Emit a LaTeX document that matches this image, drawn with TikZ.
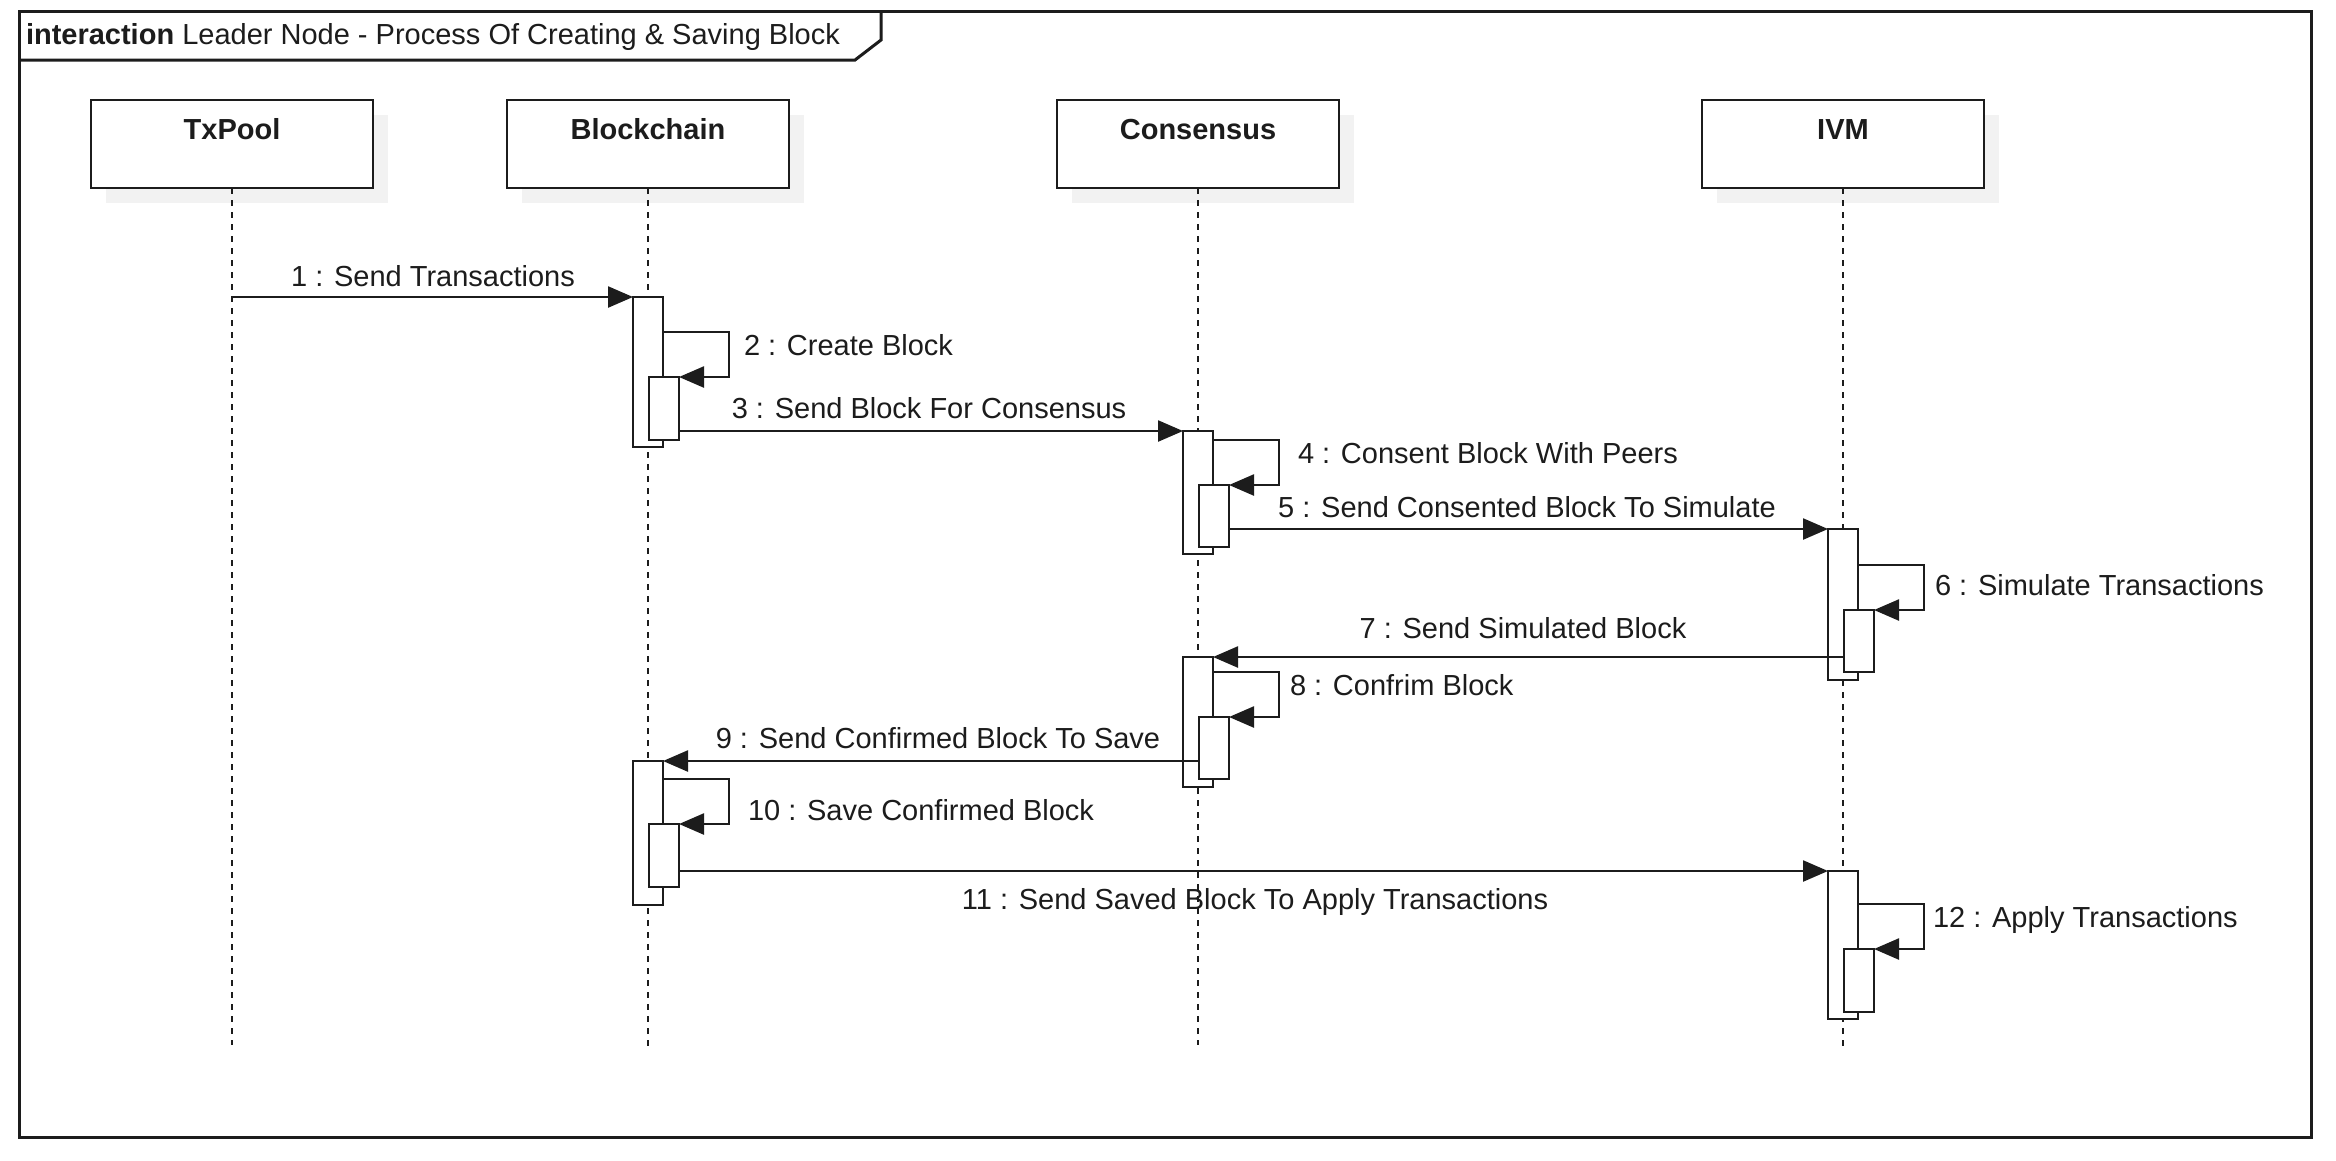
\documentclass[tikz,border=0pt]{standalone}
\usepackage{fontspec}
\setmainfont{Liberation Sans}
\usetikzlibrary{arrows.meta,calc,shadows}
\definecolor{ink}{RGB}{28,28,28}
\definecolor{shade}{RGB}{242,242,242}
\begin{document}
\begin{tikzpicture}[x=1pt,y=-1pt,
  every node/.style={inner sep=0pt, outer sep=0pt},
  txt/.style={font=\fontsize{29}{34}\selectfont, text=ink},
  head/.style={font=\fontsize{29}{34}\selectfont\bfseries, text=ink},
  lifebox/.style={draw=ink, line width=2.4pt, fill=white, minimum width=282pt, minimum height=88pt,
    drop shadow={shadow xshift=15pt, shadow yshift=-15pt, fill=shade, opacity=1, draw=none}},
  lifeline/.style={draw=ink, line width=2.2pt, dash pattern=on 6pt off 6pt},
  act/.style={draw=ink, line width=2.2pt, fill=white, minimum width=30pt, anchor=north},
  msg/.style={draw=ink, line width=2.4pt, -{Triangle[length=25pt,width=21pt]}},
  frameline/.style={draw=ink, line width=3pt},
]
\useasboundingbox (0,0) rectangle (2336,1160);
\fill[white] (0,0) rectangle (2336,1160);

% frame
\node[draw=ink, line width=3pt, minimum width=2292pt, minimum height=1126pt, anchor=north west] (frame) at (19,11) {};
\coordinate (tabA) at (19,60);
\coordinate (tabB) at (855,60);
\coordinate (tabC) at (881,40);
\coordinate (tabD) at (881,11);
\draw[frameline] (tabA) -- (tabB) -- (tabC) -- (tabD);
\node[txt, anchor=base west] (title) at (26,44) {\textbf{interaction} Leader Node - Process Of Creating \& Saving Block};

% lifeline heads
\node[lifebox] (tx) at (232,144) {};
\node[lifebox] (bc) at (648,144) {};
\node[lifebox] (cs) at (1198,144) {};
\node[lifebox] (ivm) at (1843,144) {};
\node[head, anchor=base] (txl) at (232,139) {TxPool};
\node[head, anchor=base] (bcl) at (648,139) {Blockchain};
\node[head, anchor=base] (csl) at (1198,139) {Consensus};
\node[head, anchor=base] (ivml) at (1843,139) {IVM};

% lifelines
\coordinate (txend) at (232,1045);
\coordinate (bcend) at (648,1048);
\coordinate (csend) at (1198,1045);
\coordinate (ivmend) at (1843,1048);
\draw[lifeline] (tx.south) -- (txend);
\draw[lifeline] (bc.south) -- (bcend);
\draw[lifeline] (cs.south) -- (csend);
\draw[lifeline] (ivm.south) -- (ivmend);

% ---- message 1
\node[act, minimum height=150pt] (b1) at (648,297) {};
\draw[msg] (tx.south |- b1.north) -- (b1.north west);
\node[txt, anchor=base] (l1) at (433,286) {1 : Send Transactions};
% ---- message 2 (self)
\node[act, minimum height=63pt] (b1i) at (664,377) {};
\draw[msg] ($(b1.north east)+(0,35)$) -- ++(66,0) |- (b1i.north east);
\node[txt, anchor=base west] (l2) at (744,355) {2 : Create Block};

% ---- message 3
\node[act, minimum height=123pt] (c1) at (1198,431) {};
\draw[msg] (b1i.east |- c1.north) -- (c1.north west);
\node[txt, anchor=base] (l3) at (929,418) {3 : Send Block For Consensus};
% ---- message 4 (self)
\node[act, minimum height=62pt] (c1i) at (1214,485) {};
\draw[msg] ($(c1.north east)+(0,9)$) -- ++(66,0) |- (c1i.north east);
\node[txt, anchor=base west] (l4) at (1298,463) {4 : Consent Block With Peers};

% ---- message 5
\node[act, minimum height=151pt] (i1) at (1843,529) {};
\draw[msg] (c1i.east |- i1.north) -- (i1.north west);
\node[txt, anchor=base] (l5) at (1527,517) {5 : Send Consented Block To Simulate};
% ---- message 6 (self)
\node[act, minimum height=62pt] (i1i) at (1859,610) {};
\draw[msg] ($(i1.north east)+(0,36)$) -- ++(66,0) |- (i1i.north east);
\node[txt, anchor=base west] (l6) at (1935,595) {6 : Simulate Transactions};

% ---- message 7
\node[act, minimum height=130pt] (c2) at (1198,657) {};
\draw[msg] (i1i.west |- c2.north) -- (c2.north east);
\node[txt, anchor=base] (l7) at (1523,638) {7 : Send Simulated Block};
% ---- message 8 (self)
\node[act, minimum height=62pt] (c2i) at (1214,717) {};
\draw[msg] ($(c2.north east)+(0,15)$) -- ++(66,0) |- (c2i.north east);
\node[txt, anchor=base west] (l8) at (1290,695) {8 : Confrim Block};

% ---- message 9
\node[act, minimum height=144pt] (b2) at (648,761) {};
\draw[msg] (c2i.west |- b2.north) -- (b2.north east);
\node[txt, anchor=base] (l9) at (938,748) {9 : Send Confirmed Block To Save};
% ---- message 10 (self)
\node[act, minimum height=63pt] (b2i) at (664,824) {};
\draw[msg] ($(b2.north east)+(0,18)$) -- ++(66,0) |- (b2i.north east);
\node[txt, anchor=base west] (l10) at (748,820) {10 : Save Confirmed Block};

% ---- message 11
\node[act, minimum height=148pt] (i2) at (1843,871) {};
\draw[msg] (b2i.east |- i2.north) -- (i2.north west);
\node[txt, anchor=base] (l11) at (1255,909) {11 : Send Saved Block To Apply Transactions};
% ---- message 12 (self)
\node[act, minimum height=63pt] (i2i) at (1859,949) {};
\draw[msg] ($(i2.north east)+(0,33)$) -- ++(66,0) |- (i2i.north east);
\node[txt, anchor=base west] (l12) at (1933,927) {12 : Apply Transactions};
\end{tikzpicture}
\end{document}
